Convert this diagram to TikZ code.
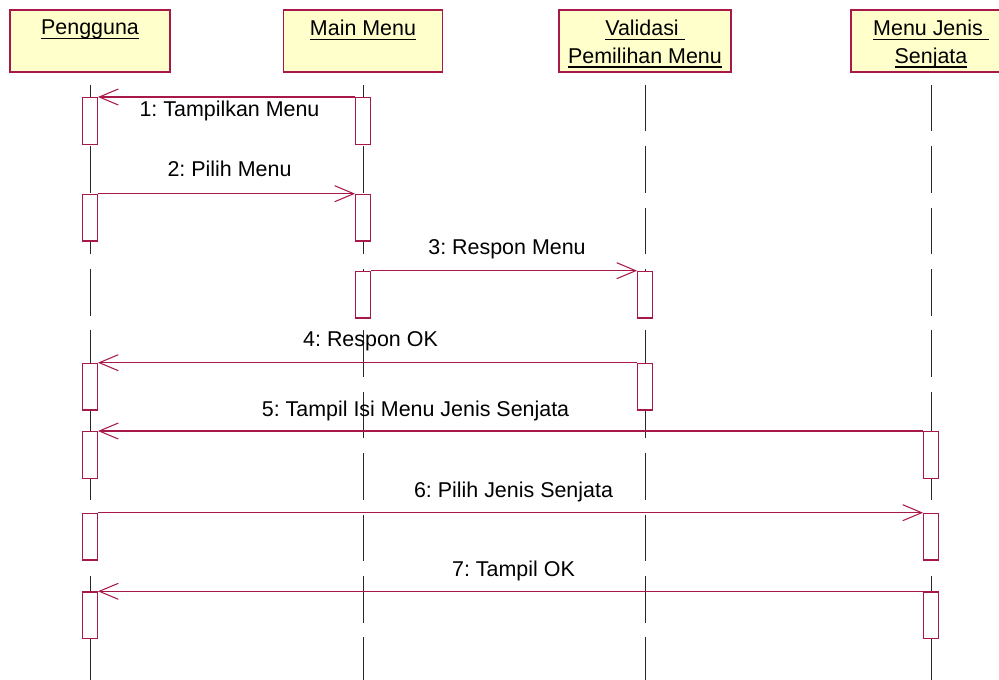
\documentclass[tikz,border=0pt]{standalone}
\usepackage{fontspec}
\setmainfont{Liberation Sans}
\usetikzlibrary{arrows.meta}
\frenchspacing

\definecolor{roseline}{RGB}{168,24,72}
\definecolor{roseyellow}{RGB}{255,255,204}
\definecolor{lifegray}{RGB}{40,40,40}

\newsavebox{\namebox}
\newcommand{\headul}[1]{\sbox{\namebox}{#1}\rlap{\rule[-2.6pt]{\wd\namebox}{0.7pt}}\usebox{\namebox}}

\tikzset{
    object/.style={draw=roseline, fill=roseyellow, line width=1pt, minimum height=1.24cm, inner sep=0pt},
    objname/.style={anchor=north, align=center, inner sep=0pt},
    lifeline/.style={draw=lifegray, line width=0.5pt, dash pattern=on 0.932cm off 0.296cm},
    activation/.style={draw=roseline, fill=white, line width=0.8pt, minimum width=0.29cm, minimum height=0.933cm, inner sep=0pt, anchor=north},
    message/.style={draw=roseline, line width=0.6pt, -{Straight Barb[length=0.38cm, width=0.32cm]}},
    msglabel/.style={anchor=base, inner sep=0pt, midway, xshift=0.06cm},
}

\begin{document}
\begin{tikzpicture}[x=0.02cm, y=-0.02cm, font=\fontsize{12.2}{15.7}\selectfont]
    \useasboundingbox (0,0) rectangle (999,679);

    % objects
    \node[object, minimum width=3.2cm] (peng) at (90,41) {};
    \node[object, minimum width=3.18cm] (main) at (363,41) {};
    \node[object, minimum width=3.44cm] (vali) at (645,41) {};
    \node[object, minimum width=3.2cm] (jenis) at (931,41) {};

    \node[objname] (peng-name) at ([yshift=-0.21cm]peng.north) {\headul{Pengguna}};
    \node[objname] (main-name) at ([yshift=-0.21cm]main.north) {\headul{Main Menu}};
    \node[objname] (vali-name) at ([yshift=-0.21cm]vali.north) {\headul{Validasi\ }\\\headul{Pemilihan Menu}};
    \node[objname] (jenis-name) at ([yshift=-0.21cm]jenis.north) {\headul{Menu Jenis\ }\\\headul{Senjata}};

    % lifelines
    \foreach \obj in {peng,main,vali,jenis}
        \draw[lifeline] ([yshift=-0.24cm]\obj.south) -- ++(0,600);

    % activations
    \node[activation] (peng1) at (90,97) {};
    \node[activation] (main1) at (363,97) {};
    \node[activation] (peng2) at (90,193.7) {};
    \node[activation] (main2) at (363,193.7) {};
    \node[activation] (main3) at (363,270.7) {};
    \node[activation] (vali1) at (645,270.7) {};
    \node[activation] (peng3) at (90,362.7) {};
    \node[activation] (vali2) at (645,362.7) {};
    \node[activation] (peng4) at (90,431) {};
    \node[activation] (jenis1) at (931,431) {};
    \node[activation] (peng5) at (90,512.7) {};
    \node[activation] (jenis2) at (931,512.7) {};
    \node[activation] (peng6) at (90,591.3) {};
    \node[activation] (jenis3) at (931,591.3) {};

    % messages
    \draw[message] (main1.north west) -- node[msglabel, yshift=-0.394cm] (msg1) {1: Tampilkan Menu} (peng1.north east);
    \draw[message] (peng2.north east) -- node[msglabel, yshift=0.34cm] (msg2) {2: Pilih Menu} (main2.north west);
    \draw[message] (main3.north east) -- node[msglabel, yshift=0.334cm] (msg3) {3: Respon Menu} (vali1.north west);
    \draw[message] (vali2.north west) -- node[msglabel, yshift=0.334cm] (msg4) {4: Respon OK} (peng3.north east);
    \draw[message] (jenis1.north west) -- node[msglabel, xshift=-1.96cm, yshift=0.286cm] (msg5) {5: Tampil Isi Menu Jenis Senjata} (peng4.north east);
    \draw[message] (peng5.north east) -- node[msglabel, yshift=0.314cm] (msg6) {6: Pilih Jenis Senjata} (jenis2.north west);
    \draw[message] (jenis3.north west) -- node[msglabel, yshift=0.306cm] (msg7) {7: Tampil OK} (peng6.north east);
\end{tikzpicture}
\end{document}
